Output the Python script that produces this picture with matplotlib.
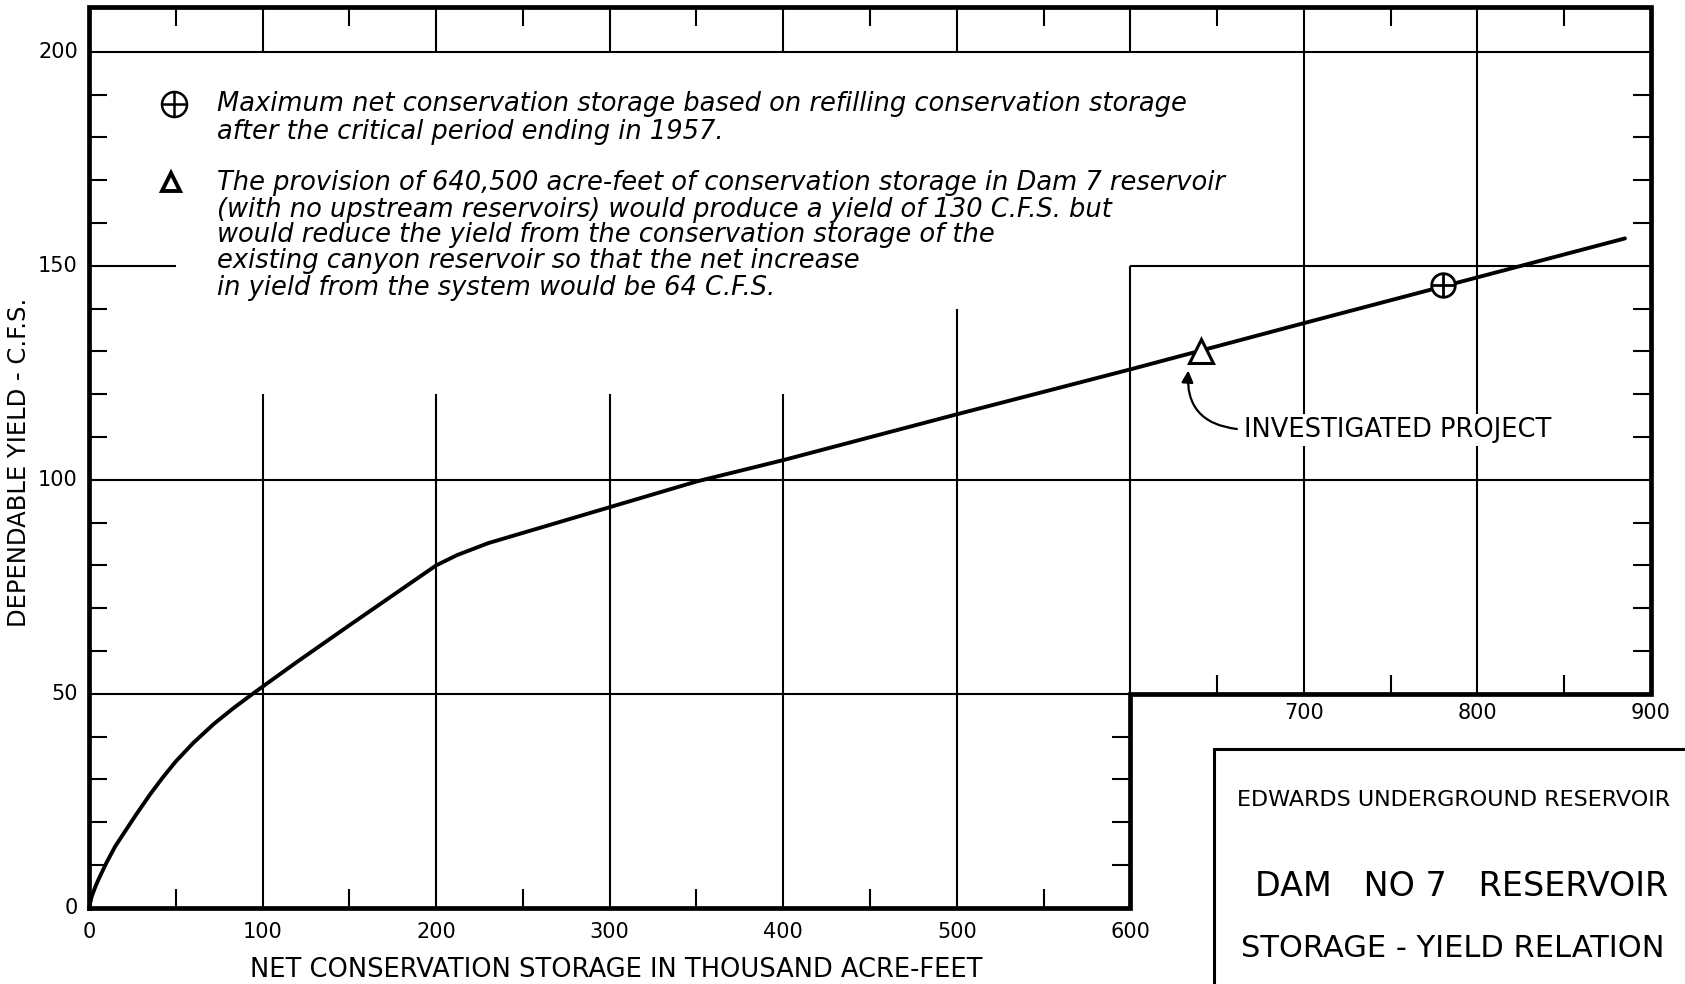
import matplotlib
matplotlib.use("Agg")
import matplotlib.pyplot as plt
from matplotlib.patches import FancyArrowPatch, Rectangle

# storage-yield relation: thousand acre-feet vs. dependable yield (c.f.s.)
storage = [0, 1.5, 4, 6, 10, 15, 20, 27, 35, 42, 50, 60, 72, 84, 96, 120,
           150, 175, 200, 212, 230, 250, 300, 350, 400, 500, 600, 700, 800, 885]
yield_cfs = [0, 2.6, 5.3, 7.1, 10.5, 14.3, 17.4, 21.7, 26.4, 30.2, 34.2,
             38.5, 43.0, 46.9, 50.5, 57.5, 66, 73, 80, 82.4, 85.2, 87.6,
             93.6, 99.6, 104.6, 115.3, 125.8, 136.6, 147.3, 156.4]

investigated = (640.5, 130)
max_storage = (780, 145.5)

x_labels_low = [0, 100, 200, 300, 400, 500, 600]
x_labels_high = [700, 800, 900]
y_labels = [0, 50, 100, 150, 200]

note_max = ["Maximum net conservation storage based on refilling conservation storage",
            "after the critical period ending in 1957."]
note_tri = ["The provision of 640,500 acre-feet of conservation storage in Dam 7 reservoir",
            "(with no upstream reservoirs) would produce a yield of 130 C.F.S. but",
            "would reduce the yield from the conservation storage of the",
            "existing canyon reservoir so that the net increase",
            "in yield from the system would be 64 C.F.S."]
title_lines = ["EDWARDS UNDERGROUND RESERVOIR", "DAM   NO 7   RESERVOIR",
               "STORAGE - YIELD RELATION"]

TOP = 210.5
TX = 10.4   # tick length along x (data units)
TY = 4.4    # tick length along y

fig = plt.figure(figsize=(16.85, 9.84), dpi=100)
ax = fig.add_axes([0, 0, 1, 1])
ax.set_xlim(-51.3, 919.6)
ax.set_ylim(-17.8, 212.1)
ax.axis("off")

k = dict(color="black", lw=1.5)

# grid lines, drawn only where the sheet has them
ax.hlines([200, 100], 0, 900, **k)
ax.hlines(50, 0, 600, **k)
ax.hlines(150, 0, 50, **k)
ax.hlines(150, 600, 900, **k)
ax.vlines([100, 200, 300, 400], 0, 120, **k)
ax.vlines(500, 0, 140, **k)
ax.vlines(600, 50, 150, **k)
ax.vlines([700, 800], 50, TOP, **k)
ax.vlines(range(100, 700, 100), 200, TOP, **k)

# minor ticks
ax.hlines([y for y in range(10, 200, 10) if y % 50], 0, TX, **k)
ax.hlines([y for y in range(60, 210, 10) if y % 50], 900 - TX, 900, **k)
ax.hlines([10, 20, 30, 40], 600 - TX, 600, **k)
ax.vlines(range(50, 600, 100), 0, TY, **k)
ax.vlines([650, 750, 850], 50, 50 + TY, **k)
ax.vlines(range(50, 900, 100), TOP - TY, TOP, **k)

# stepped outer frame
ax.plot([0, 0, 900, 900, 600, 600, 0], [0, TOP, TOP, 50, 50, 0, 0],
        color="black", lw=3.4, solid_joinstyle="miter")

# curve and points
ax.plot(storage, yield_cfs, color="black", lw=2.8,
        solid_capstyle="round", solid_joinstyle="round")
ax.plot(*investigated, marker="^", ms=17, mfc="white", mec="black", mew=2.2)
ax.plot(*max_storage, marker="o", ms=17, mfc="white", mec="black", mew=2)
ax.plot(*max_storage, marker="+", ms=17, mec="black", mew=2)

# tick labels
num = dict(fontsize=15, color="black")
for v in y_labels:
    ax.text(-6.5, v, str(v), ha="right", va="center", **num)
for v in x_labels_low:
    ax.text(v, -5.6, str(v), ha="center", va="center", **num)
for v in x_labels_high:
    ax.text(v, 45.4, str(v), ha="center", va="center", **num)

ax.text(-40.3, 104, "DEPENDABLE YIELD - C.F.S.", rotation=90, ha="center",
        va="center", fontsize=17.5)
ax.text(303.6, -14.5, "NET CONSERVATION STORAGE IN THOUSAND ACRE-FEET",
        ha="center", va="center", fontsize=18.5)

# notes
ax.plot(49, 187.9, marker="o", ms=18, mfc="white", mec="black", mew=1.8)
ax.plot(49, 187.9, marker="+", ms=18, mec="black", mew=1.8)
ax.plot(47, 169.6, marker="^", ms=13, mfc="white", mec="black", mew=2.8)
for text, y in zip(note_max, [187.9, 181.3]):
    ax.text(73.7, y, text, ha="left", va="center", fontsize=18.5, style="italic")
for text, y in zip(note_tri, [169.4, 163.1, 157.2, 151.2, 144.9]):
    ax.text(73.7, y, text, ha="left", va="center", fontsize=18.5, style="italic")

# label for the investigated project
ax.text(665.5, 111.7, "INVESTIGATED PROJECT", ha="left", va="center",
        fontsize=18.5, bbox=dict(fc="white", ec="none", pad=2))
ax.add_patch(FancyArrowPatch((663, 111.8), (633.5, 126.2),
                             connectionstyle="arc3,rad=-0.5",
                             arrowstyle="-|>,head_length=7,head_width=3.5",
                             color="black", lw=1.6))

# title block
ax.add_patch(Rectangle((648.2, -30), 300, 67.1, fill=False, ec="black", lw=2.2))
ax.text(786, 25.1, title_lines[0], ha="center", va="center", fontsize=16)
ax.text(791, 5.0, title_lines[1], ha="center", va="center", fontsize=24)
ax.text(785.5, -9.6, title_lines[2], ha="center", va="center", fontsize=22)

fig.savefig("out.png", dpi=100, facecolor="white")
